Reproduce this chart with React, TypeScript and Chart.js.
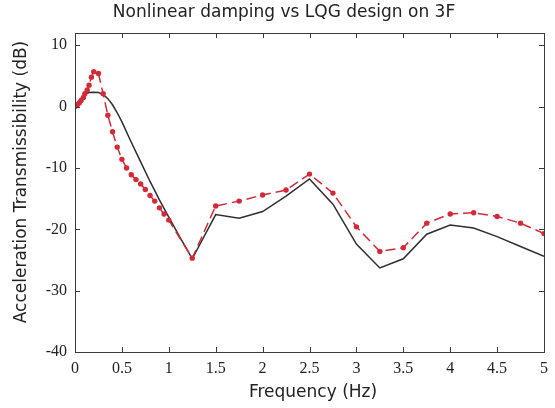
import React, { useEffect, useRef } from "react";
import { Chart, registerables } from "chart.js";

Chart.register(...registerables);

// Nonlinear damping response (red, dashed with markers)
const nlFreq = [
  0, 0.025, 0.045, 0.065, 0.09, 0.105, 0.13, 0.15, 0.175, 0.2, 0.25, 0.3,
  0.35, 0.4, 0.45, 0.5, 0.55, 0.6, 0.65, 0.7, 0.75, 0.8, 0.85, 0.9, 0.95, 1.0,
  1.25, 1.5, 1.75, 2.0, 2.25, 2.5, 2.75, 3.0, 3.25, 3.5, 3.75, 4.0, 4.25, 4.5,
  4.75, 5.0,
];
const nlDb = [
  0, 0.3, 0.6, 1.0, 1.5, 2.1, 2.7, 3.5, 4.8, 5.7, 5.4, 2.1,
  -1.4, -4.1, -6.6, -8.6, -10.0, -11.1, -11.9, -12.6, -13.5, -14.5, -15.4, -16.5, -17.5, -18.5,
  -24.7, -16.2, -15.4, -14.4, -13.6, -11.0, -14.1, -19.6, -23.6, -23.0, -19.0, -17.5, -17.3, -17.9,
  -19.0, -20.7,
];

// LQG design response (black solid)
const lqgFreq = [
  0, 0.05, 0.1, 0.15, 0.2, 0.25, 0.3, 0.35, 0.4, 0.45, 0.5, 0.6, 0.7, 0.8,
  0.9, 1.0, 1.1, 1.25, 1.5, 1.75, 2.0, 2.25, 2.5, 2.75, 3.0, 3.25, 3.5, 3.75,
  4.0, 4.25, 4.5, 4.75, 5.0,
];
const lqgDb = [
  0, 1.1, 2.0, 2.3, 2.35, 2.3, 2.0, 1.3, 0.3, -1.0, -2.5, -5.8, -9.0, -12.2,
  -15.2, -18.0, -20.8, -24.8, -17.6, -18.2, -17.1, -14.6, -11.8, -15.9, -22.4, -26.3, -24.8, -20.8,
  -19.3, -19.8, -21.2, -22.8, -24.4,
];

const xTickValues = [0, 0.5, 1, 1.5, 2, 2.5, 3, 3.5, 4, 4.5, 5];
const yTickValues = [-40, -30, -20, -10, 0, 10];

const titleText = "Nonlinear damping vs LQG design on 3F";
const xTitle = "Frequency (Hz)";
const yTitle = "Acceleration Transmissibility (dB)";

const RED = "#d32a38";
const BLACK = "#2e2e2e";
const AXIS = "#3a3a3a";
const SANS = "'DejaVu Sans', sans-serif";
const SERIF = "'Liberation Serif', serif";

const framePlugin = {
  id: "frame",
  afterDraw(chart: any) {
    const { ctx, chartArea, scales } = chart;
    const { left, right, top, bottom } = chartArea;
    ctx.save();
    ctx.strokeStyle = AXIS;
    ctx.lineWidth = 1;
    ctx.strokeRect(Math.round(left) + 0.5, Math.round(top) + 0.5, Math.round(right - left), Math.round(bottom - top));
    const tl = 5;
    ctx.beginPath();
    for (const v of xTickValues) {
      const x = Math.round(scales.x.getPixelForValue(v)) + 0.5;
      ctx.moveTo(x, bottom);
      ctx.lineTo(x, bottom - tl);
      ctx.moveTo(x, top);
      ctx.lineTo(x, top + tl);
    }
    for (const v of yTickValues) {
      const y = Math.round(scales.y.getPixelForValue(v)) + 0.5;
      ctx.moveTo(left, y);
      ctx.lineTo(left + tl, y);
      ctx.moveTo(right, y);
      ctx.lineTo(right - tl, y);
    }
    ctx.stroke();

    ctx.fillStyle = "#222";
    ctx.font = `17px ${SANS}`;
    ctx.textAlign = "center";
    ctx.textBaseline = "middle";
    ctx.fillText(titleText, 284, 13);
    ctx.fillText(xTitle, 313, 393);
    ctx.translate(22, 182);
    ctx.rotate(-Math.PI / 2);
    ctx.fillText(yTitle, 0, 0);
    ctx.restore();
  },
};

export default function App() {
  const canvasRef = useRef<HTMLCanvasElement | null>(null);

  useEffect(() => {
    const canvas = canvasRef.current;
    if (!canvas) return;
    const chart = new Chart(canvas, {
      type: "line",
      data: {
        datasets: [
          {
            label: "Nonlinear damping",
            data: nlFreq.map((f, i) => ({ x: f, y: nlDb[i] })),
            borderColor: RED,
            backgroundColor: RED,
            borderWidth: 1.5,
            borderDash: [10, 5],
            pointRadius: 2.7,
            pointBackgroundColor: RED,
            pointBorderWidth: 0,
            tension: 0,
            fill: false,
          },
          {
            label: "LQG design",
            data: lqgFreq.map((f, i) => ({ x: f, y: lqgDb[i] })),
            borderColor: BLACK,
            borderWidth: 1.5,
            pointRadius: 0,
            tension: 0,
            fill: false,
          },
        ],
      },
      options: {
        responsive: false,
        animation: false,
        devicePixelRatio: 1,
        layout: { padding: { top: 33, right: 8, left: 0, bottom: 0 } },
        plugins: {
          legend: { display: false },
          title: { display: false },
          tooltip: { enabled: false },
        },
        scales: {
          x: {
            type: "linear",
            min: 0,
            max: 5,
            grid: { display: false, drawTicks: false },
            border: { display: false },
            afterFit: (s: any) => {
              s.height = 56;
            },
            afterBuildTicks: (s: any) => {
              s.ticks = xTickValues.map((v) => ({ value: v }));
            },
            ticks: {
              padding: 7,
              maxRotation: 0,
              autoSkip: false,
              color: "#222",
              font: { family: SERIF, size: 16 },
              callback: (v: any) => String(v),
            },
          },
          y: {
            type: "linear",
            min: -40,
            max: 12,
            grid: { display: false, drawTicks: false },
            border: { display: false },
            afterFit: (s: any) => {
              s.width = 75;
            },
            afterBuildTicks: (s: any) => {
              s.ticks = yTickValues.map((v) => ({ value: v }));
            },
            ticks: {
              padding: 8,
              includeBounds: false,
              color: "#222",
              font: { family: SERIF, size: 16 },
              callback: (v: any) => String(v),
            },
          },
        },
      },
      plugins: [framePlugin],
    });
    // redraw once the serif face used by the tick labels is ready
    if ((document as any).fonts && (document as any).fonts.load) {
      (document as any).fonts
        .load("16px 'Liberation Serif'")
        .then(() => chart.update())
        .catch(() => {});
    }
    return () => chart.destroy();
  }, []);

  return (
    <div style={{ position: "fixed", left: 0, top: 0, width: 555, height: 408, background: "#fff" }}>
      <canvas ref={canvasRef} width={555} height={408} style={{ display: "block" }} />
    </div>
  );
}
